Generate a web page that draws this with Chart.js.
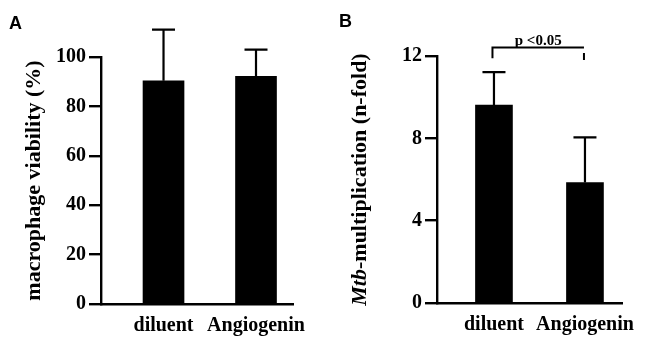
<!DOCTYPE html>
<html>
<head>
<meta charset="utf-8">
<script src="https://cdn.jsdelivr.net/npm/chart.js@4"></script>
<style>
  body { margin: 0; background: #fff; }
  .wrap { position: absolute; top: 0; width: 325px; height: 350px; }
</style>
</head>
<body>
<div class="wrap" style="left:0"><canvas id="chartA" width="325" height="350"></canvas></div>
<div class="wrap" style="left:325px"><canvas id="chartB" width="325" height="350"></canvas></div>
<script>
const categories = ['diluent', 'Angiogenin'];

// panel A
const viabilityMean = [90.4, 92.2];
const viabilitySD = [20.7, 10.8];
const viabilityTicks = [0, 20, 40, 60, 80, 100];

// panel B
const mtbMean = [9.62, 5.85];
const mtbSD = [1.6, 2.2];
const mtbTicks = [0, 4, 8, 12];
const sigText = 'p <0.05';
const bracketLevel = 12.41;

Chart.defaults.color = '#000';
Chart.defaults.font.family = "'Liberation Serif', 'Times New Roman', serif";
Chart.defaults.font.weight = 'bold';
Chart.defaults.font.size = 20;

const errorBars = {
  id: 'errorBars',
  afterDatasetsDraw(chart, args, opts) {
    const ctx = chart.ctx;
    const y = chart.scales.y;
    const meta = chart.getDatasetMeta(0);
    ctx.save();
    ctx.strokeStyle = '#000';
    ctx.lineWidth = 2.2;
    meta.data.forEach((bar, i) => {
      const top = y.getPixelForValue(opts.mean[i] + opts.sd[i]);
      ctx.beginPath();
      ctx.moveTo(bar.x, bar.y);
      ctx.lineTo(bar.x, top);
      ctx.moveTo(bar.x - 11.5, top);
      ctx.lineTo(bar.x + 11.5, top);
      ctx.stroke();
    });
    ctx.restore();
  }
};

const sideTexts = {
  id: 'sideTexts',
  afterDraw(chart, args, opts) {
    const ctx = chart.ctx;
    const area = chart.chartArea;
    ctx.save();
    // panel letter
    ctx.fillStyle = '#000';
    ctx.font = "bold 18px 'Liberation Sans', Arial, sans-serif";
    ctx.textBaseline = 'alphabetic';
    ctx.textAlign = 'left';
    ctx.fillText(opts.letter, opts.letterX, opts.letterY);

    // rotated y title, parts may be italic
    const fonts = opts.title.map(p => (p.italic ? 'italic ' : '') + "bold 22px 'Liberation Serif', serif");
    let total = 0;
    opts.title.forEach((p, i) => { ctx.font = fonts[i]; total += ctx.measureText(p.text).width; });
    ctx.translate(opts.titleX, (area.top + area.bottom) / 2);
    ctx.rotate(-Math.PI / 2);
    ctx.textBaseline = 'middle';
    let x = -total / 2;
    opts.title.forEach((p, i) => {
      ctx.font = fonts[i];
      ctx.fillText(p.text, x, 0);
      x += ctx.measureText(p.text).width;
    });
    ctx.restore();
  }
};

const bracket = {
  id: 'bracket',
  afterDraw(chart, args, opts) {
    if (!opts.text) return;
    const ctx = chart.ctx;
    const x = chart.scales.x, y = chart.scales.y;
    const x0 = x.getPixelForValue(0) - 1.5;
    const x1 = x.getPixelForValue(1) - 1;
    const yl = y.getPixelForValue(opts.level);
    ctx.save();
    ctx.strokeStyle = '#000';
    ctx.lineWidth = 2;
    ctx.beginPath();
    ctx.moveTo(x0, y.getPixelForValue(opts.level - 0.52));
    ctx.lineTo(x0, yl);
    ctx.lineTo(x1, yl);
    ctx.moveTo(x1, y.getPixelForValue(opts.level - 0.26));
    ctx.lineTo(x1, y.getPixelForValue(opts.level - 0.6));
    ctx.stroke();
    ctx.fillStyle = '#000';
    ctx.font = "bold 15px 'Liberation Serif', serif";
    ctx.textAlign = 'center';
    ctx.textBaseline = 'alphabetic';
    ctx.fillText(opts.text, (x0 + x1) / 2, yl - 3);
    ctx.restore();
  }
};

function makePanel(id, cfg) {
  new Chart(document.getElementById(id), {
    type: 'bar',
    data: {
      datasets: [{
        data: cfg.mean.map((v, i) => ({ x: i, y: v })),
        backgroundColor: '#000',
        borderWidth: 0,
        barThickness: cfg.barWidth
      }]
    },
    options: {
      responsive: false,
      animation: false,
      layout: { padding: { top: cfg.top, right: cfg.right, left: 0, bottom: 0 } },
      plugins: {
        legend: { display: false },
        tooltip: { enabled: false },
        errorBars: { mean: cfg.mean, sd: cfg.sd },
        sideTexts: { letter: cfg.letter, letterX: cfg.letterX, letterY: cfg.letterY, title: cfg.title, titleX: cfg.titleX },
        bracket: { text: cfg.sig, level: cfg.sigLevel }
      },
      scales: {
        x: {
          type: 'linear',
          offset: false,
          min: cfg.xMin,
          max: cfg.xMax,
          afterBuildTicks: s => { s.ticks = categories.map((c, i) => ({ value: i })); },
          afterFit: s => { s.height = 350 - cfg.bottom; },
          grid: { display: false, drawTicks: false },
          border: { display: true, color: '#000', width: 2.4 },
          ticks: {
            padding: 10,
            maxRotation: 0,
            autoSkip: false,
            callback: v => categories[v]
          }
        },
        y: {
          min: cfg.yTicks[0],
          max: cfg.yTicks[cfg.yTicks.length - 1],
          afterBuildTicks: s => { s.ticks = cfg.yTicks.map(v => ({ value: v })); },
          afterFit: s => { s.width = cfg.left; },
          grid: { drawOnChartArea: false, drawTicks: true, tickLength: 12, color: '#000', lineWidth: 2.4 },
          border: { display: true, color: '#000', width: 2.4 },
          ticks: { padding: 3 }
        }
      }
    },
    plugins: [errorBars, sideTexts, bracket]
  });
}

makePanel('chartA', {
  mean: viabilityMean, sd: viabilitySD, yTicks: viabilityTicks,
  letter: 'A', letterX: 9, letterY: 29,
  title: [{ text: 'macrophage viability (%)' }], titleX: 34,
  left: 101, right: 32, top: 57, bottom: 304,
  xMin: -0.676, xMax: 1.4, barWidth: 41
});

makePanel('chartB', {
  mean: mtbMean, sd: mtbSD, yTicks: mtbTicks,
  letter: 'B', letterX: 14, letterY: 27,
  title: [{ text: 'Mtb', italic: true }, { text: '-multiplication (n-fold)' }], titleX: 35,
  left: 112, right: 28, top: 56, bottom: 303,
  xMin: -0.626, xMax: 1.407, barWidth: 37,
  sig: sigText, sigLevel: bracketLevel
});
</script>
</body>
</html>
